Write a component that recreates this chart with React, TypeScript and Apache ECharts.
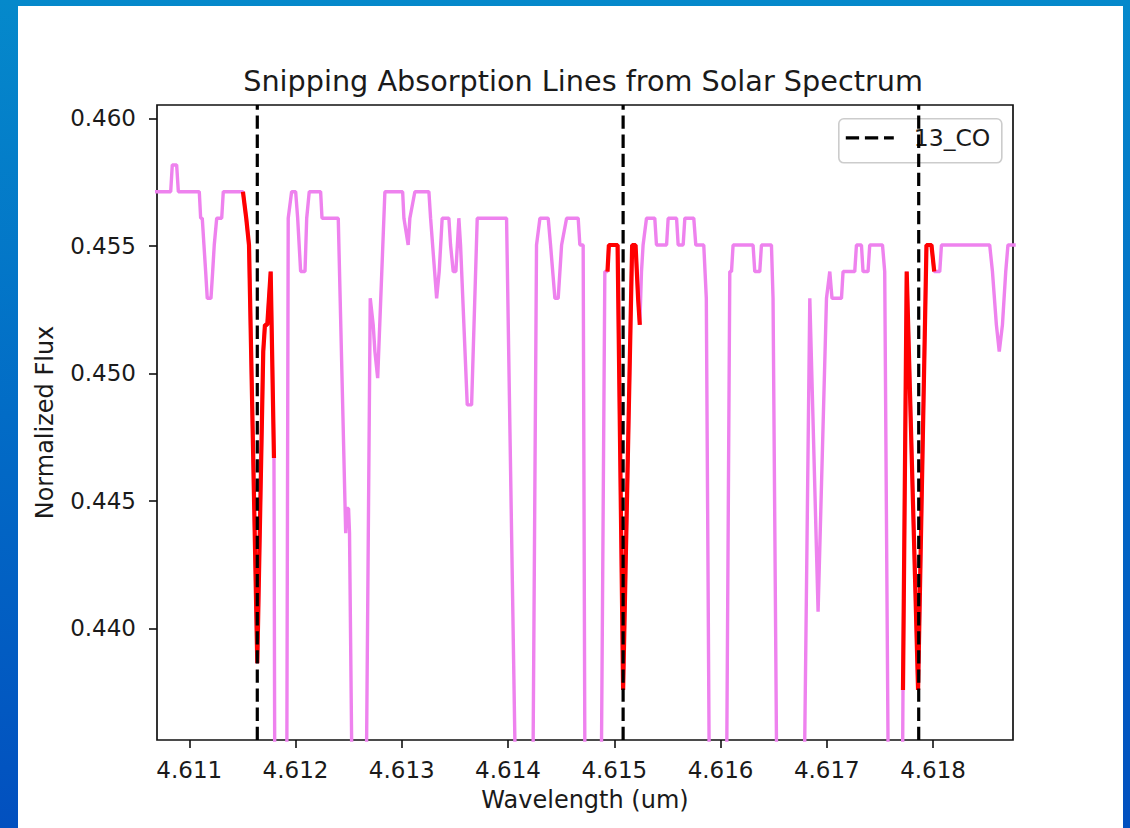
import { useEffect, useRef } from "react";
import * as echarts from "echarts";

// Solar spectrum around 4.61 um (normalized flux), vertices of the plotted trace
const WAVELENGTH_UM = [
  4.610677, 4.610825, 4.61084, 4.610881, 4.610897, 4.611094, 4.611107, 4.611122, 4.611138, 4.611154,
  4.611169, 4.611204, 4.61122, 4.611235, 4.611258, 4.611305, 4.61132, 4.611505, 4.611536, 4.611562,
  4.61164, 4.611696, 4.611712, 4.611734, 4.611766, 4.611797, 4.61181, 4.611912, 4.611931, 4.611963,
  4.612001, 4.61202, 4.612048, 4.612089, 4.612105, 4.612129, 4.612236, 4.612249, 4.612402, 4.612472,
  4.61248, 4.612499, 4.612508, 4.612554, 4.612648, 4.612703, 4.612731, 4.612747, 4.612773, 4.612841,
  4.613008, 4.61302, 4.61306, 4.613076, 4.613123, 4.613255, 4.613271, 4.613328, 4.613352, 4.61338,
  4.613443, 4.613459, 4.613484, 4.613509, 4.613537, 4.613553, 4.613616, 4.613657, 4.61371, 4.613986,
  4.614105, 4.614219, 4.614268, 4.6143, 4.614378, 4.6144, 4.614441, 4.614472, 4.614504, 4.614551,
  4.61466, 4.614676, 4.614707, 4.614731, 4.614862, 4.614911, 4.614936, 4.614949, 4.615031, 4.615083,
  4.615168, 4.6152, 4.615224, 4.61524, 4.615256, 4.615271, 4.615303, 4.615381, 4.615397, 4.615492,
  4.615507, 4.615586, 4.615601, 4.615648, 4.615664, 4.615748, 4.615767, 4.615842, 4.615866, 4.615908,
  4.616043, 4.616087, 4.616103, 4.616118, 4.616306, 4.616322, 4.616369, 4.616385, 4.616479, 4.616494,
  4.616546, 4.616763, 4.61684, 4.616918, 4.616997, 4.617028, 4.617049, 4.617138, 4.617153, 4.617263,
  4.617279, 4.617326, 4.617341, 4.617388, 4.617404, 4.617524, 4.617545, 4.617594, 4.6177, 4.617717,
  4.617752, 4.617859, 4.617938, 4.617985, 4.618011, 4.618063, 4.618079, 4.618533, 4.618559, 4.618596,
  4.618623, 4.618653, 4.618684, 4.618705, 4.618778,
];

const FLUX = [
  0.45712, 0.45712, 0.45817, 0.45817, 0.45712, 0.45712, 0.45608, 0.45608, 0.45503, 0.45399,
  0.45294, 0.45294, 0.45399, 0.45503, 0.45608, 0.45608, 0.45712, 0.45712, 0.45608, 0.45503,
  0.43863, 0.45085, 0.4519, 0.4519, 0.45399, 0.44668, 0.425, 0.425, 0.45608, 0.45712,
  0.45712, 0.45608, 0.45399, 0.45399, 0.45608, 0.45712, 0.45712, 0.45608, 0.45608, 0.44373,
  0.4447, 0.4447, 0.44373, 0.425, 0.425, 0.45294, 0.4519, 0.45085, 0.44981, 0.45712,
  0.45712, 0.45608, 0.45503, 0.45608, 0.45712, 0.45712, 0.45608, 0.45294, 0.45399, 0.45608,
  0.45608, 0.45503, 0.45399, 0.45399, 0.45608, 0.45503, 0.44876, 0.44876, 0.45608, 0.45608,
  0.425, 0.425, 0.45503, 0.45608, 0.45608, 0.45503, 0.45294, 0.45294, 0.45503, 0.45608,
  0.45608, 0.45503, 0.45503, 0.425, 0.425, 0.45399, 0.45399, 0.45503, 0.45503, 0.43758,
  0.45503, 0.45503, 0.45294, 0.4519, 0.45399, 0.45503, 0.45608, 0.45608, 0.45503, 0.45503,
  0.45608, 0.45608, 0.45503, 0.45503, 0.45608, 0.45608, 0.45503, 0.45503, 0.45294, 0.425,
  0.425, 0.45399, 0.45399, 0.45503, 0.45503, 0.45399, 0.45399, 0.45503, 0.45503, 0.45294,
  0.425, 0.425, 0.45294, 0.44065, 0.45294, 0.45399, 0.45294, 0.45294, 0.45399, 0.45399,
  0.45503, 0.45503, 0.45399, 0.45399, 0.45503, 0.45503, 0.45399, 0.425, 0.425, 0.43758,
  0.45399, 0.43758, 0.45503, 0.45503, 0.45399, 0.45399, 0.45503, 0.45503, 0.45399, 0.4519,
  0.45085, 0.4519, 0.45399, 0.45503, 0.45503,
];

// 13CO line centres and the half-width of the window snipped around each
const CO13_LINES_UM = [4.61164, 4.615083, 4.617865];
const SNIP_HALF_WIDTH_UM = 0.00016;

const X_TICKS = [4.611, 4.612, 4.613, 4.614, 4.615, 4.616, 4.617, 4.618];
const Y_TICKS = [0.44, 0.445, 0.45, 0.455, 0.46];
const X_RANGE = [4.6106961, 4.6187524];
const Y_RANGE = [0.43562, 0.46052];

const FONT = "'DejaVu Sans', sans-serif";
const TEXT_COLOR = "#1a1a1a";
const DASH = [13.3, 5.8];

export default function App() {
  const ref = useRef<HTMLDivElement>(null);

  useEffect(() => {
    if (!ref.current) return;
    const chart = echarts.init(ref.current, null, { renderer: "svg" });

    const spectrum = WAVELENGTH_UM.map((w, i) => [w, FLUX[i]]);
    const snips = CO13_LINES_UM.map((c) =>
      spectrum.filter(([w]) => Math.abs(w - c) <= SNIP_HALF_WIDTH_UM + 1e-9)
    );

    const gridLeft = 139;
    const gridTop = 99;
    const gridWidth = 856;
    const gridHeight = 635;

    const legendX = 820;
    const legendY = 112;

    chart.setOption({
      animation: false,
      backgroundColor: "#ffffff",
      textStyle: { fontFamily: FONT },
      title: {
        text: "Snipping Absorption Lines from Solar Spectrum",
        left: 560,
        textAlign: "center",
        top: 55,
        textStyle: {
          fontFamily: FONT,
          fontSize: 28.7,
          fontWeight: "normal",
          color: TEXT_COLOR,
        },
      },
      grid: {
        left: gridLeft,
        top: gridTop,
        width: gridWidth,
        height: gridHeight,
        containLabel: false,
        outerBoundsMode: "none",
        show: true,
        borderColor: "#111111",
        borderWidth: 1.7,
        backgroundColor: "transparent",
      },
      xAxis: {
        type: "value",
        min: X_RANGE[0],
        max: X_RANGE[1],
        name: "Wavelength (um)",
        nameLocation: "middle",
        nameGap: 48,
        nameTextStyle: { fontFamily: FONT, fontSize: 24, color: TEXT_COLOR },
        axisLine: { show: false },
        splitLine: { show: false },
        axisTick: {
          show: true,
          inside: false,
          length: 8,
          lineStyle: { color: "#111111", width: 1.6 },
          customValues: X_TICKS,
        },
        axisLabel: {
          show: true,
          margin: 18,
          fontFamily: FONT,
          fontSize: 23,
          color: TEXT_COLOR,
          customValues: X_TICKS,
          formatter: (v: number) => v.toFixed(3),
        },
      },
      yAxis: {
        type: "value",
        min: Y_RANGE[0],
        max: Y_RANGE[1],
        name: "Normalized Flux",
        nameLocation: "middle",
        nameGap: 100,
        nameRotate: 90,
        nameTextStyle: { fontFamily: FONT, fontSize: 24, color: TEXT_COLOR },
        axisLine: { show: false },
        splitLine: { show: false },
        axisTick: {
          show: true,
          inside: false,
          length: 8,
          lineStyle: { color: "#111111", width: 1.6 },
          customValues: Y_TICKS,
        },
        axisLabel: {
          show: true,
          margin: 21,
          fontFamily: FONT,
          fontSize: 23,
          color: TEXT_COLOR,
          customValues: Y_TICKS,
          formatter: (v: number) => v.toFixed(3),
        },
      },
      series: [
        {
          name: "Solar spectrum",
          type: "line",
          data: spectrum,
          symbol: "none",
          clip: true,
          z: 2,
          lineStyle: { color: "#EE82EE", width: 3.4 },
        },
        ...snips.map((pts, i) => ({
          name: `snip ${i + 1}`,
          type: "line",
          data: pts,
          symbol: "none",
          clip: true,
          z: 3,
          lineStyle: { color: "#FF0000", width: 4.2 },
        })),
        ...CO13_LINES_UM.map((w) => ({
          name: "13_CO",
          type: "line",
          data: [
            [w, Y_RANGE[0]],
            [w, Y_RANGE[1]],
          ],
          symbol: "none",
          clip: true,
          z: 4,
          lineStyle: { color: "#000000", width: 3.2, type: DASH },
        })),
      ],
      graphic: [
        {
          type: "group",
          left: legendX,
          top: legendY,
          z: 100,
          children: [
            {
              type: "rect",
              shape: { x: 0, y: 0, width: 163, height: 44, r: 5 },
              style: {
                fill: "rgba(255,255,255,0.8)",
                stroke: "#cccccc",
                lineWidth: 1.6,
              },
            },
            {
              type: "line",
              shape: { x1: 7, y1: 19, x2: 55, y2: 19 },
              style: { stroke: "#000000", lineWidth: 3.2, lineDash: DASH },
            },
            {
              type: "text",
              x: 75,
              y: 19,
              style: {
                text: "13_CO",
                fontFamily: FONT,
                fontSize: 23.5,
                fill: TEXT_COLOR,
                verticalAlign: "middle",
                align: "left",
              },
            },
          ],
        },
      ],
    });

    return () => chart.dispose();
  }, []);

  return (
    <div
      style={{
        position: "absolute",
        left: 0,
        top: 0,
        width: 1130,
        height: 828,
        background: "linear-gradient(to bottom, #0589cb 0%, #026cc6 50%, #0250bf 100%)",
        overflow: "hidden",
      }}
    >
      <div
        ref={ref}
        style={{
          position: "absolute",
          left: 18,
          top: 6,
          width: 1105,
          height: 822,
          background: "#ffffff",
        }}
      />
    </div>
  );
}
